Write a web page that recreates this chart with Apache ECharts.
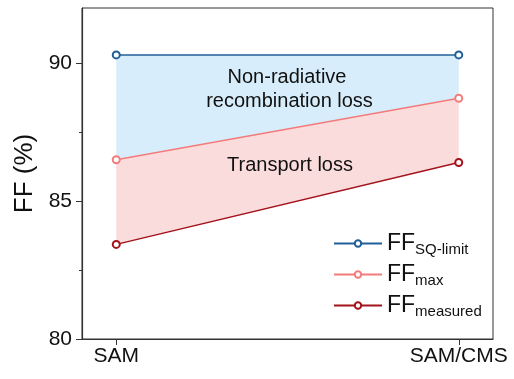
<!DOCTYPE html>
<html><head><meta charset="utf-8">
<script src="https://cdn.jsdelivr.net/npm/echarts@6/dist/echarts.min.js"></script>
<style>html,body{margin:0;padding:0;background:#fff}#c{width:514px;height:379px}</style>
</head><body><div id="c"></div>
<script>
var categories = ['SAM', 'SAM/CMS'];
var ffSQ = [90.3, 90.3];
var ffMax = [86.5, 88.73];
var ffMeasured = [83.43, 86.4];
var yTicks = [80, 85, 90];
var yMinorTicks = [82.5, 87.5];

var xs = categories.map(function (c, i) { return i; });
function pts(arr) { return arr.map(function (v, i) { return [xs[i], v]; }); }

var FONT = 'Liberation Sans, Arial, sans-serif';
var chart = echarts.init(document.getElementById('c'), null, {renderer: 'canvas'});

function bandSeries(upper, lower, color) {
  return {
    type: 'custom', silent: true, z: 1,
    data: [[0, upper[0]]],
    encode: {x: 0, y: 1},
    renderItem: function (params, api) {
      var p = [];
      for (var i = 0; i < xs.length; i++) p.push(api.coord([xs[i], upper[i]]));
      for (var j = xs.length - 1; j >= 0; j--) p.push(api.coord([xs[j], lower[j]]));
      return {type: 'polygon', shape: {points: p}, style: {fill: color}};
    }
  };
}
function lineSeries(name, data, color) {
  return {
    name: name, type: 'line', data: pts(data), symbol: 'emptyCircle', symbolSize: 7,
    lineStyle: {color: color, width: 1.5}, itemStyle: {color: color, borderWidth: 1.5},
    z: 5
  };
}
chart.setOption({
  animation: false,
  grid: {left: 82, right: 21, top: 8, bottom: 40, show: true, borderColor: '#333', borderWidth: 1},
  xAxis: {
    type: 'value', min: -0.1, max: 1.1,
    axisLine: {onZero: false, lineStyle: {color: '#333', width: 1.2}},
    splitLine: {show: false},
    axisTick: {customValues: xs, length: 6, lineStyle: {color: '#333'}},
    axisLabel: {customValues: xs, formatter: function (v) { return categories[Math.round(v)]; },
      fontFamily: FONT, fontSize: 21, color: '#111', margin: 7}
  },
  yAxis: [{
    type: 'value', min: 80, max: 92,
    name: 'FF (%)', nameLocation: 'middle', nameGap: 42,
    nameTextStyle: {fontFamily: FONT, fontSize: 26, color: '#111'},
    axisLine: {show: true, onZero: false, lineStyle: {color: '#333', width: 1.2}},
    splitLine: {show: false},
    axisTick: {customValues: yTicks, length: 6, lineStyle: {color: '#333'}},
    axisLabel: {customValues: yTicks, fontFamily: FONT, fontSize: 21, color: '#111', margin: 10}
  }, {
    type: 'value', min: 80, max: 92, position: 'left',
    axisLine: {show: false, onZero: false}, splitLine: {show: false},
    axisTick: {show: true, customValues: yMinorTicks, length: 3, lineStyle: {color: '#333'}},
    axisLabel: {show: false}
  }],
  legend: {
    orient: 'vertical', left: 328, top: 227, itemWidth: 48, itemHeight: 8, itemGap: 6,
    data: ['sq', 'max', 'meas'],
    formatter: function (n) {
      var sub = {sq: 'SQ-limit', max: 'max', meas: 'measured'}[n];
      return '{a|FF}{b|' + sub + '}';
    },
    textStyle: {rich: {
      a: {fontFamily: FONT, fontSize: 23, color: '#111'},
      b: {fontFamily: FONT, fontSize: 15, color: '#111', padding: [12, 0, 0, 0]}
    }}
  },
  series: [
    bandSeries(ffMax, ffMeasured, '#fbdcdc'),
    bandSeries(ffSQ, ffMax, '#d7edfb'),
    lineSeries('sq', ffSQ, '#1f5e98'),
    lineSeries('max', ffMax, '#f47b7b'),
    lineSeries('meas', ffMeasured, '#a4121c')
  ],
  graphic: [
    {type: 'text', x: 287, y: 77, z: 10, style: {text: 'Non-radiative', font: '20px ' + FONT, fill: '#111', textAlign: 'center', textVerticalAlign: 'middle'}},
    {type: 'text', x: 289.5, y: 101, z: 10, style: {text: 'recombination loss', font: '20px ' + FONT, fill: '#111', textAlign: 'center', textVerticalAlign: 'middle'}},
    {type: 'text', x: 290, y: 165, z: 10, style: {text: 'Transport loss', font: '20px ' + FONT, fill: '#111', textAlign: 'center', textVerticalAlign: 'middle'}}
  ]
});
</script></body></html>
